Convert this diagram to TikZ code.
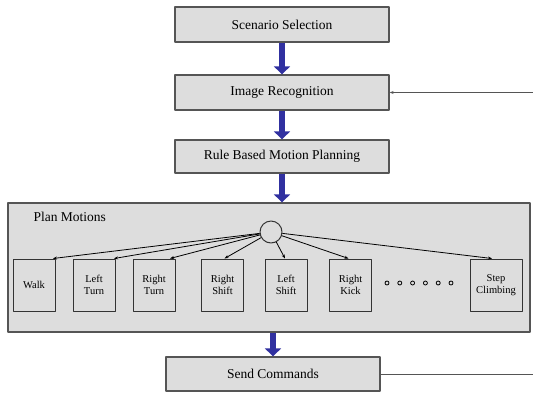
\documentclass[tikz,border=0pt]{standalone}
\usepackage{fontspec}
\setmainfont{Liberation Serif}
\newfontfamily\diagfont{Liberation Serif}
\usetikzlibrary{arrows.meta}
\definecolor{boxgray}{RGB}{221,221,221}
\definecolor{edgegray}{RGB}{85,85,85}
\definecolor{arrowblue}{RGB}{48,48,160}
\tikzset{
  stagebox/.style={draw=edgegray, line width=1.3pt, fill=boxgray, minimum width=214pt, font=\diagfont\fontsize{13.5}{15}\selectfont},
  motionbox/.style={draw=black!80, line width=1pt, fill=boxgray, minimum width=42pt, minimum height=52pt, align=center, font=\diagfont\fontsize{10.5}{12.5}\selectfont},
  bigarrow/.style={draw=arrowblue, line width=5.5pt, -{Triangle[width=16pt,length=8pt]}},
}
\begin{document}
\begin{tikzpicture}[x=1pt, y=-1pt, line join=round, >={Stealth[length=4pt,width=3pt]}]
    \useasboundingbox (0,0) rectangle (533,392);
    % main stages
    \node[stagebox, minimum height=35pt] (ss) at (282,24.5) {Scenario Selection};
    \node[stagebox, minimum height=35pt] (ir) at (282,92.5) {Image Recognition};
    \node[stagebox, minimum height=33pt] (rbmp) at (282,156.5) {Rule Based Motion Planning};
    \node[draw=edgegray, line width=1.3pt, fill=boxgray, minimum width=522pt, minimum height=129pt] (plan) at (269,267.5) {};
    \node[stagebox, minimum height=34pt] (sc) at (273,374) {Send Commands};
    \node[anchor=west, font=\diagfont\fontsize{13.5}{15}\selectfont] (plantitle) at (30,217) {Plan Motions};
    % motions
    \node[draw=black!80, line width=1pt, circle, minimum size=22pt, inner sep=0pt] (hub) at (271,232) {};
    \foreach \n/\x/\t in {walk/34/Walk, lturn/94/{Left\\Turn}, rturn/154/{Right\\Turn}, rshift/222.5/{Right\\Shift}, lshift/286/{Left\\Shift}, rkick/350.5/{Right\\Kick}}
        \node[motionbox] (\n) at (\x,285) {\t};
    \node[motionbox, minimum width=52pt] (step) at (496,285) {Step\\Climbing};
    \foreach \n/\d in {walk/19, lturn/20, rturn/16, rshift/2, lshift/-1, rkick/-2, step/-4}
        \draw[->, line width=0.8pt] (hub) -- ([xshift=\d pt]\n.north);
    \foreach \i in {0,...,5}
        \draw[line width=0.8pt] (387+\i*12.8,283) circle (2);
    % flow
    \draw[bigarrow] (ss) -- (ir);
    \draw[bigarrow] (ir) -- (rbmp);
    \draw[bigarrow] (rbmp) -- (rbmp |- plan.north);
    \draw[bigarrow] (sc |- plan.south) -- (sc);
    \coordinate (feedin) at (533,92.5);
    \coordinate (feedout) at (533,374);
    \draw[->, line width=0.8pt, edgegray] (feedin) -- (ir);
    \draw[line width=1pt, edgegray] (sc) -- (feedout);
\end{tikzpicture}
\end{document}
